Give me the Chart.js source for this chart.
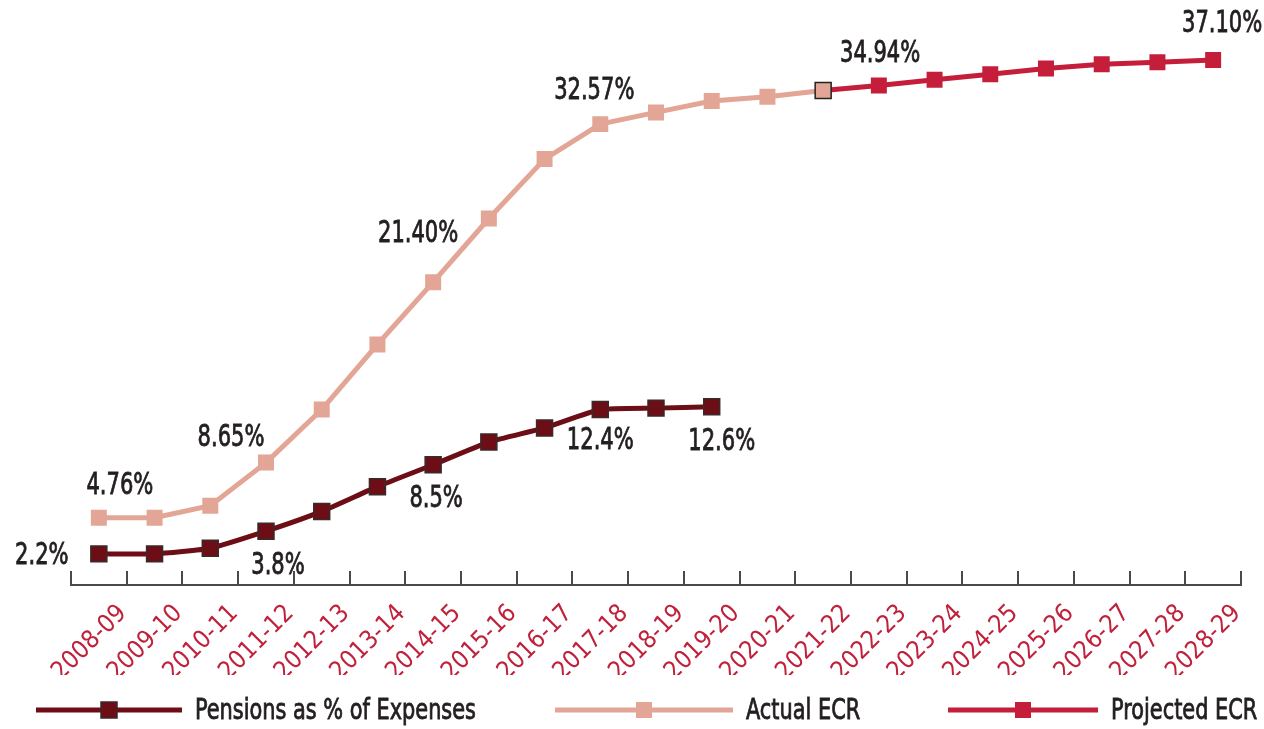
<!DOCTYPE html>
<html>
<head>
<meta charset="utf-8">
<title>ECR and Pensions</title>
<script src="https://cdn.jsdelivr.net/npm/chart.js@4/dist/chart.umd.min.js"></script>
<style>
  html, body { margin: 0; padding: 0; background: #fff; }
  #wrap { width: 1264px; height: 729px; position: relative; }
</style>
</head>
<body>
<div id="wrap"><canvas id="ecr-chart"></canvas></div>
<script>
// fiscal years on the x axis
const years = ['2008-09', '2009-10', '2010-11', '2011-12', '2012-13', '2013-14', '2014-15',
  '2015-16', '2016-17', '2017-18', '2018-19', '2019-20', '2020-21', '2021-22', '2022-23',
  '2023-24', '2024-25', '2025-26', '2026-27', '2027-28', '2028-29'];

// series values (percent)
const pensionsPct = [2.2, 2.2, 2.6, 3.8, 5.2, 6.95, 8.5, 10.1, 11.1, 12.4, 12.5, 12.6,
  null, null, null, null, null, null, null, null, null];
const actualEcr = [4.76, 4.76, 5.6, 8.65, 12.4, 17.0, 21.40, 25.9, 30.1, 32.57, 33.4, 34.2,
  34.5, 34.94, null, null, null, null, null, null, null];
const projectedEcr = [null, null, null, null, null, null, null, null, null, null, null, null,
  null, 34.94, 35.3, 35.7, 36.1, 36.5, 36.8, 36.95, 37.10];

const seriesNames = ['Pensions as % of Expenses', 'Actual ECR', 'Projected ECR'];

const FONT = '"DejaVu Sans Condensed", "Liberation Sans Narrow", sans-serif';
const TEXT_DARK = '#231f20';
const PENSION_COLOR = '#6d0d16';
const ACTUAL_COLOR = '#e3a595';
const PROJECTED_COLOR = '#c41e3a';

// where the projected line picks up from the actual one
const junction = projectedEcr.findIndex(v => v !== null);

// which points get a value label, and where the text sits relative to the point
const valueLabels = [
  { ds: 0, i: 0, dx: -57, dy: 2, dec: 1 },
  { ds: 1, i: 0, dx: 21, dy: -31, dec: 2 },
  { ds: 1, i: 3, dx: -35, dy: -24, dec: 2 },
  { ds: 0, i: 3, dx: 12, dy: 35, dec: 1 },
  { ds: 1, i: 6, dx: -15, dy: -48, dec: 2 },
  { ds: 0, i: 6, dx: 3, dy: 34, dec: 1 },
  { ds: 1, i: 9, dx: -6, dy: -33, dec: 2 },
  { ds: 0, i: 9, dx: 0, dy: 32, dec: 1 },
  { ds: 0, i: 11, dx: 10, dy: 35, dec: 1 },
  { ds: 1, i: 13, dx: 57, dy: -36, dec: 2 },
  { ds: 2, i: 20, dx: 9, dy: -36, dec: 2 }
];

// squeeze text horizontally so it looks like a condensed face,
// with a thin stroke to give it a bit more weight
function narrowText(ctx, text, x, y, align, squeeze) {
  ctx.save();
  ctx.translate(x, y);
  ctx.scale(squeeze, 1);
  ctx.textAlign = align;
  ctx.lineWidth = 0.8;
  ctx.strokeStyle = ctx.fillStyle;
  ctx.fillText(text, 0, 0);
  ctx.strokeText(text, 0, 0);
  ctx.restore();
}

// value labels drawn next to the points
const valueLabelPlugin = {
  id: 'valueLabels',
  afterDatasetsDraw(chart) {
    const ctx = chart.ctx;
    ctx.save();
    ctx.font = '30px ' + FONT;
    ctx.fillStyle = TEXT_DARK;
    ctx.textBaseline = 'middle';
    valueLabels.forEach(l => {
      const pt = chart.getDatasetMeta(l.ds).data[l.i];
      const val = chart.data.datasets[l.ds].data[l.i];
      narrowText(ctx, val.toFixed(l.dec) + '%', pt.x + l.dx, pt.y + l.dy, 'center', 0.78);
    });
    ctx.restore();
  }
};

// short tick marks pointing up from the axis, between categories
const innerTicksPlugin = {
  id: 'innerTicks',
  afterDraw(chart) {
    const x = chart.scales.x;
    const ctx = chart.ctx;
    ctx.save();
    ctx.strokeStyle = '#4a4a4a';
    ctx.lineWidth = 2;
    ctx.beginPath();
    for (let i = 0; i <= years.length; i++) {
      const px = Math.round(x.getPixelForValue(i - 0.5));
      ctx.moveTo(px, x.top);
      ctx.lineTo(px, x.top - 14);
    }
    ctx.stroke();
    ctx.restore();
  }
};

// legend: long line with a square marker in the middle, then the name
const legendSpots = [
  { x: 36, w: 146 },
  { x: 555, w: 178 },
  { x: 948, w: 150 }
];

const lineLegendPlugin = {
  id: 'lineLegend',
  afterDraw(chart) {
    const ctx = chart.ctx;
    const y = 710;
    ctx.save();
    chart.data.datasets.forEach((ds, k) => {
      const spot = legendSpots[k];
      ctx.strokeStyle = ds.borderColor;
      ctx.lineWidth = 5;
      ctx.beginPath();
      ctx.moveTo(spot.x, y);
      ctx.lineTo(spot.x + spot.w, y);
      ctx.stroke();
      const cx = spot.x + spot.w / 2;
      ctx.fillStyle = ds.borderColor;
      ctx.fillRect(cx - 8, y - 8, 16, 16);
      if (k === 0) {
        ctx.strokeStyle = '#3b2a2a';
        ctx.lineWidth = 1.5;
        ctx.strokeRect(cx - 8, y - 8, 16, 16);
      }
      ctx.font = '29px ' + FONT;
      ctx.fillStyle = TEXT_DARK;
      ctx.textBaseline = 'middle';
      narrowText(ctx, ds.label, spot.x + spot.w + 13, y + 1, 'left', 0.8);
    });
    ctx.restore();
  }
};

const ctx = document.getElementById('ecr-chart').getContext('2d');
const ecrChart = new Chart(ctx, {
  type: 'line',
  data: {
    labels: years,
    datasets: [
      {
        label: seriesNames[0],
        data: pensionsPct,
        borderColor: PENSION_COLOR,
        backgroundColor: PENSION_COLOR,
        borderWidth: 5,
        tension: 0.15,
        pointStyle: 'rect',
        pointRadius: 11.3,
        pointBorderColor: '#3b2a2a',
        pointBorderWidth: 1.5,
        order: 0
      },
      {
        label: seriesNames[1],
        data: actualEcr,
        borderColor: ACTUAL_COLOR,
        backgroundColor: ACTUAL_COLOR,
        borderWidth: 5,
        tension: 0,
        pointStyle: 'rect',
        pointRadius: 11.3,
        pointBorderColor: '#222',
        pointBorderWidth: c => c.dataIndex === junction ? 1.5 : 0,
        order: 1
      },
      {
        label: seriesNames[2],
        data: projectedEcr,
        borderColor: PROJECTED_COLOR,
        backgroundColor: PROJECTED_COLOR,
        borderWidth: 5,
        tension: 0,
        pointStyle: 'rect',
        pointRadius: 11.3,
        pointBorderWidth: 0,
        order: 2
      }
    ]
  },
  options: {
    responsive: true,
    maintainAspectRatio: false,
    animation: false,
    layout: {
      padding: { left: 71, right: 23, top: 19, bottom: 54 }
    },
    plugins: {
      legend: { display: false },
      tooltip: { enabled: false }
    },
    scales: {
      x: {
        offset: true,
        grid: { drawOnChartArea: false, drawTicks: false },
        border: { display: true, color: '#4a4a4a', width: 2 },
        ticks: {
          autoSkip: false,
          minRotation: 45,
          maxRotation: 45,
          padding: 14,
          labelOffset: 24,
          color: '#c0213b',
          font: { family: FONT, size: 25 }
        },
        afterFit(scale) {
          scale.height = 90;
          scale.paddingLeft = 0;
          scale.paddingRight = 0;
        }
      },
      y: {
        display: false,
        min: 0,
        max: 40
      }
    }
  },
  plugins: [valueLabelPlugin, innerTicksPlugin, lineLegendPlugin]
});
</script>
</body>
</html>
